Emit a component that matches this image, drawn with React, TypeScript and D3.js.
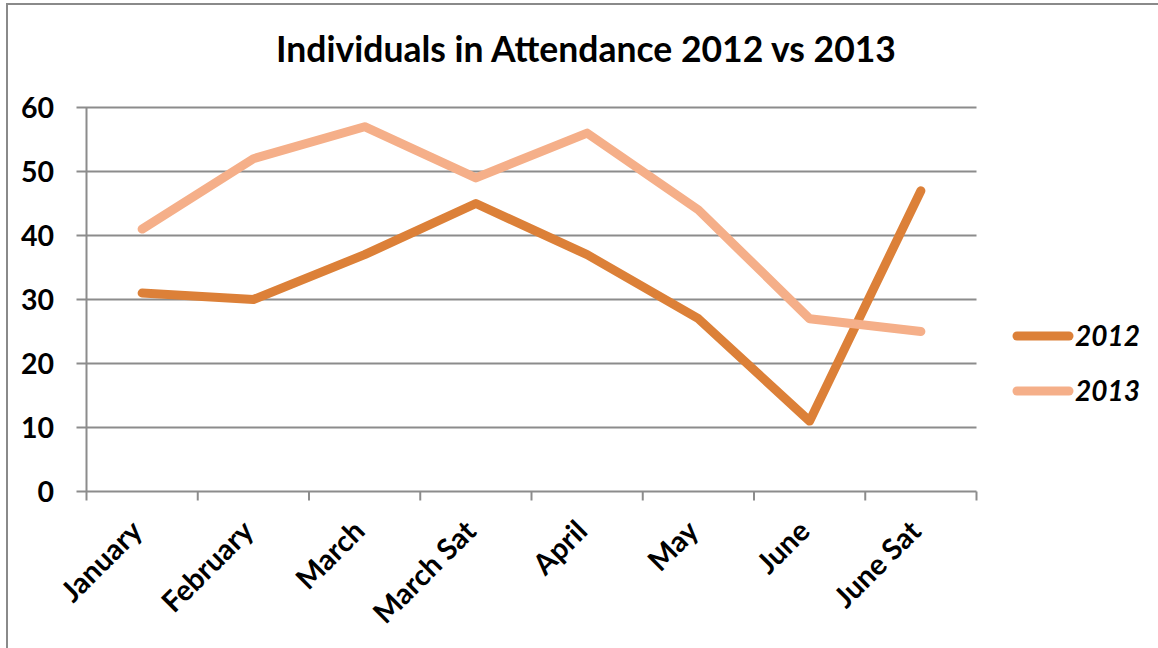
import React from "react";
import * as d3 from "d3";

const categories = ["January", "February", "March", "March Sat", "April", "May", "June", "June Sat"];
const values2012 = [31, 30, 37, 45, 37, 27, 11, 47];
const values2013 = [41, 52, 57, 49, 56, 44, 27, 25];
const yTicks = [0, 10, 20, 30, 40, 50, 60];
const seriesNames = ["2012", "2013"];
const seriesColors = ["#DC8038", "#F5AF89"];

const W = 1158;
const H = 648;
const FONT = "Lato, 'Open Sans', sans-serif";

export default function App() {
  const left = 86.5;
  const right = 976.5;
  const top = 107.5;
  const bottom = 491.5;

  const x = d3.scaleBand<string>().domain(categories).range([left, right]).paddingInner(0).paddingOuter(0);
  const y = d3.scaleLinear().domain([0, 60]).range([bottom, top]);
  const cx = (c: string) => (x(c) ?? 0) + x.bandwidth() / 2;

  const line = d3
    .line<number>()
    .x((_, i) => cx(categories[i]))
    .y((d) => y(d));

  const series = [values2012, values2013];
  const boundaries = categories.map((c) => x(c) ?? 0).concat([right]);

  return (
    <svg
      width={W}
      height={H}
      style={{ position: "absolute", left: 0, top: 0, background: "#fff" }}
      fontFamily={FONT}
    >
      <rect x={7} y={4} width={W + 10} height={H + 10} fill="#fff" stroke="#8a8a8a" strokeWidth={2} />

      <text x={586} y={62} textAnchor="middle" fontSize={35.5} fontWeight="bold" fill="#000">
        Individuals in Attendance 2012 vs 2013
      </text>

      {/* horizontal gridlines and y tick marks */}
      {yTicks.map((t) => (
        <g key={t}>
          <line x1={left - 10} x2={right} y1={y(t)} y2={y(t)} stroke="#8c8c8c" strokeWidth={2} />
          <text
            x={54}
            y={y(t) + 10}
            textAnchor="end"
            fontSize={28.5}
            fontWeight="bold"
            fill="#000"
          >
            {t}
          </text>
        </g>
      ))}

      {/* y axis line */}
      <line x1={left} x2={left} y1={top} y2={bottom} stroke="#8c8c8c" strokeWidth={2} />

      {/* x axis category ticks */}
      {boundaries.map((b, i) => (
        <line key={i} x1={b} x2={b} y1={bottom} y2={bottom + 9} stroke="#8c8c8c" strokeWidth={2} />
      ))}

      {categories.map((c) => (
        <text
          key={c}
          transform={`translate(${cx(c) + 2},${533}) rotate(-45)`}
          textAnchor="end"
          fontSize={29}
          fontWeight="bold"
          fill="#000"
        >
          {c}
        </text>
      ))}

      {series.map((vals, i) => (
        <path
          key={i}
          d={line(vals) ?? ""}
          fill="none"
          stroke={seriesColors[i]}
          strokeWidth={9}
          strokeLinejoin="round"
          strokeLinecap="round"
        />
      ))}

      {seriesNames.map((name, i) => {
        const ly = 336 + i * 55;
        return (
          <g key={name}>
            <line x1={1017} x2={1069} y1={ly} y2={ly} stroke={seriesColors[i]} strokeWidth={9} strokeLinecap="round" />
            <text
              x={1075}
              y={ly + 10}
              fontSize={28}
              fontWeight="bold"
              fontStyle="italic"
              fill="#000"
            >
              {name}
            </text>
          </g>
        );
      })}
    </svg>
  );
}
